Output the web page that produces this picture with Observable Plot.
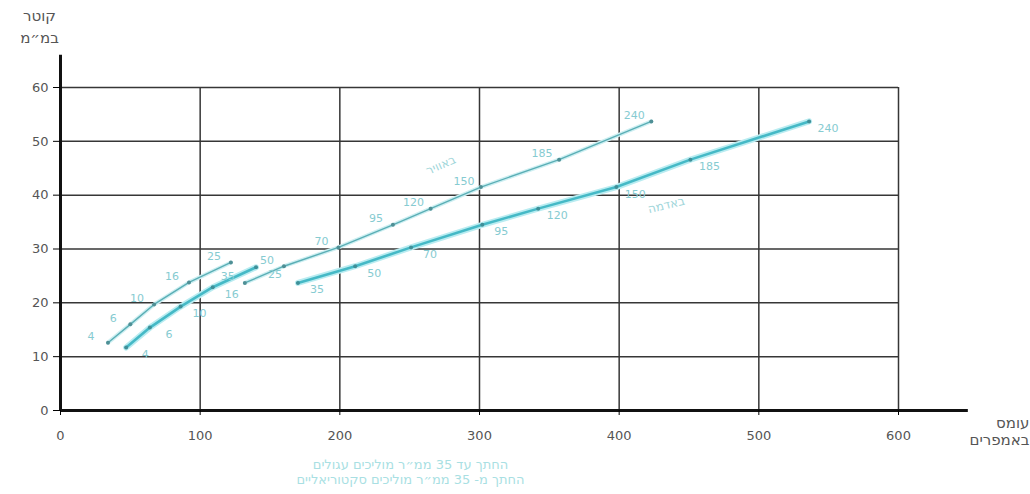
<!DOCTYPE html>
<html lang="he">
<head>
<meta charset="utf-8">
<script src="https://cdn.jsdelivr.net/npm/d3@7"></script>
<script src="https://cdn.jsdelivr.net/npm/@observablehq/plot@0.6"></script>
<style>
  html, body { margin: 0; padding: 0; background: #fff; }
  #chart svg { display: block; }
</style>
</head>
<body>
<div id="chart"></div>
<script>
// ---- data ----
const xTicks = [0, 100, 200, 300, 400, 500, 600];
const yTicks = [0, 10, 20, 30, 40, 50, 60];

const sectionsSmall = [4, 6, 10, 16, 25];
const sectionsLarge = [35, 50, 70, 95, 120, 150, 185, 240];

// cables up to 35 mm² (round conductors)
const airSmallCurrent = [34, 50, 67, 92, 122];
const airSmallDiam = [12.6, 16.0, 19.7, 23.8, 27.5];
const groundSmallCurrent = [47, 64, 86, 109, 140];
const groundSmallDiam = [11.7, 15.4, 19.3, 22.9, 26.6];

// cables from 35 mm² (sector conductors)
const airLargeCurrent = [132, 160, 199, 238, 265, 301, 357, 423];
const groundLargeCurrent = [170, 211, 251, 302, 342, 398, 451, 536];
const largeDiam = [23.7, 26.8, 30.3, 34.5, 37.5, 41.5, 46.6, 53.7];

const yTitle = "קוטר\nבמ״מ";
const xTitle = "עומס\nבאמפרים";
const captionLines = "החתך עד 35 ממ״ר מוליכים עגולים\nהחתך מ- 35 ממ״ר מוליכים סקטוריאליים";
const airLabel = "באוויר";
const groundLabel = "באדמה";

// ---- build tables ----
function build(name, currents, diams, sections) {
  return currents.map((c, i) => ({series: name, current: c, diam: diams[i], section: sections[i]}));
}
const airData = [
  ...build("air-small", airSmallCurrent, airSmallDiam, sectionsSmall),
  ...build("air-large", airLargeCurrent, largeDiam, sectionsLarge)
];
const groundData = [
  ...build("ground-small", groundSmallCurrent, groundSmallDiam, sectionsSmall),
  ...build("ground-large", groundLargeCurrent, largeDiam, sectionsLarge)
];
const airSeriesLabel = [{current: airLargeCurrent[5], diam: largeDiam[5], text: airLabel}];
const groundSeriesLabel = [{current: groundLargeCurrent[5], diam: largeDiam[5], text: groundLabel}];

const font = "DejaVu Sans, Liberation Sans, sans-serif";
const gridColor = "#363636";
const labelColor = "#86cbd1";

const chart = Plot.plot({
  width: 1030,
  height: 494,
  marginLeft: 60,
  marginRight: 132,
  marginTop: 87,
  marginBottom: 84,
  style: {fontFamily: font, background: "#fff"},
  x: {domain: [0, 600]},
  y: {domain: [0, 60]},
  marks: [
    Plot.gridY({ticks: yTicks, stroke: gridColor, strokeOpacity: 1, strokeWidth: 1.5}),
    Plot.gridX({ticks: xTicks, stroke: gridColor, strokeOpacity: 1, strokeWidth: 1.5}),
    Plot.ruleX([0], {y1: 0, y2: 66, stroke: "#111", strokeWidth: 3}),
    Plot.ruleY([0], {x1: 0, x2: 650, stroke: "#111", strokeWidth: 3}),
    Plot.axisX({ticks: xTicks, tickSize: 5, tickPadding: 15, fontSize: 13, fill: "#555", label: null}),
    Plot.axisY({ticks: yTicks, tickSize: 7, tickPadding: 5, fontSize: 13, fill: "#555", label: null}),
    // air (thin) lines
    Plot.line(airData, {x: "current", y: "diam", z: "series", stroke: "#cdeff2", strokeWidth: 4}),
    Plot.line(airData, {x: "current", y: "diam", z: "series", stroke: "#5aaeb5", strokeWidth: 1.4}),
    // ground (thick) lines
    Plot.line(groundData, {x: "current", y: "diam", z: "series", stroke: "#b9ecf1", strokeWidth: 6}),
    Plot.line(groundData, {x: "current", y: "diam", z: "series", stroke: "#45b9c6", strokeWidth: 2.6}),
    Plot.dot(airData, {x: "current", y: "diam", r: 2, fill: "#4f8f95"}),
    Plot.dot(groundData, {x: "current", y: "diam", r: 2, fill: "#3f8f98"}),
    Plot.text(airData, {x: "current", y: "diam", text: d => String(d.section), dx: -17, dy: -6, fill: labelColor, fontSize: 11}),
    Plot.text(groundData, {x: "current", y: "diam", text: d => String(d.section), dx: 19, dy: 7, fill: labelColor, fontSize: 11}),
    Plot.text(airSeriesLabel, {x: "current", y: "diam", text: "text", dx: -40, dy: -22, rotate: -24, fill: "#9fd6da", fontSize: 12}),
    Plot.text(groundSeriesLabel, {x: "current", y: "diam", text: "text", dx: 50, dy: 18, rotate: -14, fill: "#9fd6da", fontSize: 12}),
    Plot.text([yTitle], {frameAnchor: "top-left", dx: -21, dy: -82, lineAnchor: "top", textAnchor: "middle", lineHeight: 1.45, fontSize: 15, fill: "#555"}),
    Plot.text([xTitle], {frameAnchor: "bottom-right", dx: 131, dy: 6, lineAnchor: "top", textAnchor: "end", lineHeight: 1.1, fontSize: 15, fill: "#555"}),
    Plot.text([captionLines], {frameAnchor: "bottom", dx: -69, dy: 47, lineAnchor: "top", textAnchor: "middle", lineHeight: 1.2, fontSize: 13, fill: "#a9dfe3"})
  ]
});
document.getElementById("chart").appendChild(chart);
</script>
</body>
</html>
